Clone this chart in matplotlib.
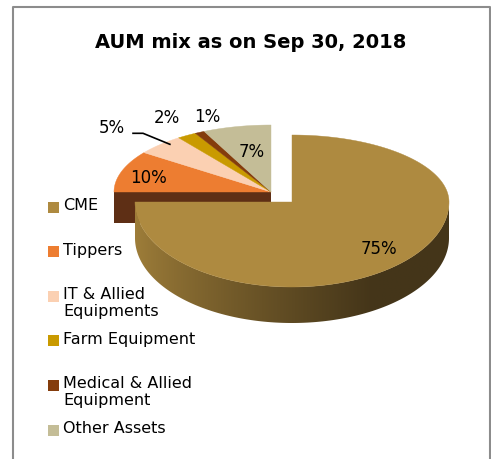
import numpy as np
import matplotlib.pyplot as plt
from matplotlib.patches import Polygon

title = 'AUM mix as on Sep 30, 2018'
labels = ['CME', 'Tippers', 'IT & Allied\nEquipments', 'Farm Equipment',
          'Medical & Allied\nEquipment', 'Other Assets']
shares = [75, 10, 5, 2, 1, 7]
colors = ['#AE8A40', '#ED7D31', '#FBD0B2', '#C99A00', '#843C0C', '#C4BD97']

# pie geometry in pixels (y grows downward), crude perspective
cx, cy = 292, 202
rx, ry_up, ry_down = 157, 67, 85
depth, depth_back = 36, 31
ox, oy = -21, -10          # explode offset of the small slices

def pt(t, dx=0, dy=0):
    s = np.sin(t)
    ry = np.where(s > 0, ry_up, ry_down)
    return cx + dx + rx * np.cos(t), cy + dy - ry * s

fig = plt.figure(figsize=(4.91, 4.59), dpi=100)
ax = fig.add_axes([0, 0, 1, 1])
ax.set_xlim(0, 491)
ax.set_ylim(459, 0)
ax.axis('off')

# frame
ax.plot([13, 13, 490, 490], [459, 7, 7, 459], color='#8c8c8c', lw=1.5)

bounds = 90 - 360 * np.concatenate([[0], np.cumsum(shares)]) / 100.0
bounds = np.radians(bounds)

# exploded group: front cut face first
gx, gy = cx + ox, cy + oy
ax.add_patch(Polygon([[gx - rx, gy], [gx, gy], [gx, gy + depth_back], [gx - rx, gy + depth_back]],
                     closed=True, fc='#5E2F15', ec='none'))
for i in range(1, len(shares)):
    t = np.linspace(bounds[i], bounds[i + 1], 40)
    x, y = pt(t, ox, oy)
    poly = np.column_stack([np.r_[gx, x], np.r_[gy, y]])
    ax.add_patch(Polygon(poly, closed=True, fc=colors[i], ec=colors[i], lw=0.3))

# CME rim, shaded left -> right
t = np.linspace(-np.pi, 0, 200)
x, y = pt(t)
rim = Polygon(np.column_stack([np.r_[x, x[::-1]], np.r_[y, y[::-1] + depth]]),
              closed=True, fc='none', ec='none')
ax.add_patch(rim)
light = np.array([160, 127, 58]) / 255
dark = np.array([68, 53, 25]) / 255
f = np.clip(np.linspace(0, 1, 300) ** 0.8 * 1.25, 0, 1)
grad = (light[None, :] + (dark - light)[None, :] * f[:, None])[None, :, :]
im = ax.imshow(grad, extent=[cx - rx - 2, cx + rx + 2, cy + ry_down + depth + 2, cy - 2],
               aspect='auto', interpolation='bilinear', zorder=1.5)
im.set_clip_path(rim)
ax.set_xlim(0, 491)
ax.set_ylim(459, 0)

t = np.linspace(bounds[0], bounds[1], 200)
x, y = pt(t)
ax.add_patch(Polygon(np.column_stack([np.r_[cx, x], np.r_[cy, y]]), closed=True,
                     fc=colors[0], ec=colors[0], lw=0.3, zorder=2))

# percentage labels
lab_r = [0.78, 0.82, 1.45, 1.28, 1.25, 0.56]
lab_shift = [(0, 0), (0, 3), (2, 5), (4, -2), (25, 0), (0, -3)]
for i, s in enumerate(shares):
    mid = (bounds[i] + bounds[i + 1]) / 2
    dx, dy = (0, 0) if i == 0 else (ox, oy)
    s_ = np.sin(mid)
    ry = ry_up if s_ > 0 else ry_down
    lx = cx + dx + rx * lab_r[i] * np.cos(mid) + lab_shift[i][0]
    ly = cy + dy - ry * lab_r[i] * s_ + lab_shift[i][1]
    ax.text(lx, ly, f'{s}%', fontsize=12, ha='center', va='center', color='black', zorder=3)
    if i == 2:
        ex, ey = pt(mid - 0.05, ox, oy)
        ex = gx + (ex - gx) * 0.96
        ey = gy + (ey - gy) * 0.96
        ax.plot([lx + 21, lx + 31, ex], [ly + 5, ly + 5, ey], color='black', lw=1.2, zorder=3)

ax.text(251, 42, title, fontsize=14, fontweight='bold', ha='center', va='center')

# legend
for i, lab in enumerate(labels):
    yy = 207 + i * 44.6
    ax.add_patch(Polygon([[48, yy - 5.5], [59, yy - 5.5], [59, yy + 5.5], [48, yy + 5.5]],
                         closed=True, fc=colors[i], ec='none'))
    ax.text(63, yy - 9, lab, fontsize=11.5, ha='left', va='top', linespacing=1.15)

fig.savefig('out.png', dpi=100)
